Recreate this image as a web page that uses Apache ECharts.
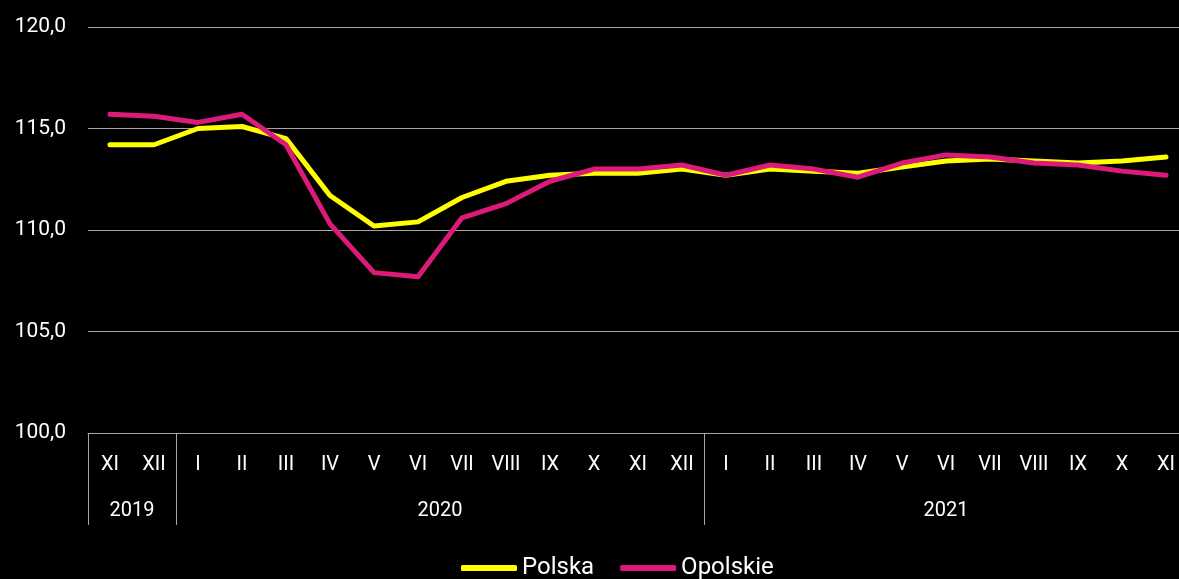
<!DOCTYPE html>
<html>
<head>
<meta charset="utf-8">
<script src="https://cdn.jsdelivr.net/npm/echarts@6/dist/echarts.min.js"></script>
<style>
	html, body { margin: 0; padding: 0; background: #000; }
	#chart { width: 1179px; height: 579px; }
</style>
</head>
<body>
<div id="chart"></div>
<script>
	// miesiące XI 2019 - XI 2021
	const months = ['XI', 'XII', 'I', 'II', 'III', 'IV', 'V', 'VI', 'VII', 'VIII', 'IX', 'X', 'XI', 'XII',
		'I', 'II', 'III', 'IV', 'V', 'VI', 'VII', 'VIII', 'IX', 'X', 'XI']
	const years = ['2019', '2020', '2021']
	const monthsPerYear = [2, 12, 11]
	const polska = [114.2, 114.2, 115.0, 115.1, 114.5, 111.7, 110.2, 110.4, 111.6, 112.4, 112.7, 112.8, 112.8, 113.0,
		112.7, 113.0, 112.9, 112.8, 113.1, 113.4, 113.5, 113.4, 113.3, 113.4, 113.6]
	const opolskie = [115.7, 115.6, 115.3, 115.7, 114.2, 110.3, 107.9, 107.7, 110.6, 111.3, 112.4, 113.0, 113.0, 113.2,
		112.7, 113.2, 113.0, 112.6, 113.3, 113.7, 113.6, 113.3, 113.2, 112.9, 112.7]

	const font = 'Roboto, "Noto Sans", sans-serif'
	const gridColor = '#a6a6a6'

	// granice lat i środki podpisów
	let bounds = [0]
	let centers = []
	monthsPerYear.forEach(n => {
		let start = bounds[bounds.length - 1]
		centers.push(start + n / 2)
		bounds.push(start + n)
	})

	const chart = echarts.init(document.getElementById('chart'))
	chart.setOption({
		backgroundColor: '#000',
		animation: false,
		grid: {
			left: 88,
			width: 1100,
			top: 27,
			height: 406,
			outerBoundsMode: 'none'
		},
		legend: {
			top: 551,
			left: 456,
			itemWidth: 56,
			itemHeight: 6,
			itemGap: 26,
			icon: 'roundRect',
			textStyle: { color: '#fff', fontSize: 24, fontFamily: font },
			data: ['Polska', 'Opolskie']
		},
		xAxis: [{
			type: 'category',
			data: months,
			boundaryGap: true,
			axisLine: { show: true, lineStyle: { color: gridColor, width: 1 } },
			axisTick: { show: false },
			axisLabel: { interval: 0, color: '#fff', fontSize: 20, fontFamily: font, margin: 22 }
		}, {
			type: 'value',
			min: 0,
			max: months.length,
			position: 'bottom',
			axisLine: { show: false },
			splitLine: { show: false },
			axisTick: {
				show: true,
				customValues: bounds.slice(0, -1),
				length: 92,
				lineStyle: { color: gridColor, width: 1 }
			},
			axisLabel: {
				customValues: centers,
				formatter: v => years[centers.indexOf(v)],
				color: '#fff',
				fontSize: 20,
				fontFamily: font,
				margin: 68
			}
		}],
		yAxis: {
			type: 'value',
			min: 100,
			max: 120,
			interval: 5,
			axisLine: { show: false },
			axisTick: { show: false },
			axisLabel: {
				color: '#fff',
				fontSize: 21,
				fontFamily: font,
				margin: 22,
				formatter: v => v.toFixed(1).replace('.', ',')
			},
			splitLine: { lineStyle: { color: gridColor, width: 1 } }
		},
		series: [{
			name: 'Polska',
			type: 'line',
			data: polska,
			symbol: 'none',
			color: '#ffff00',
			lineStyle: { width: 5, cap: 'round', join: 'round' }
		}, {
			name: 'Opolskie',
			type: 'line',
			data: opolskie,
			symbol: 'none',
			color: '#dc1a7a',
			lineStyle: { width: 5, cap: 'round', join: 'round' }
		}]
	})
</script>
</body>
</html>
